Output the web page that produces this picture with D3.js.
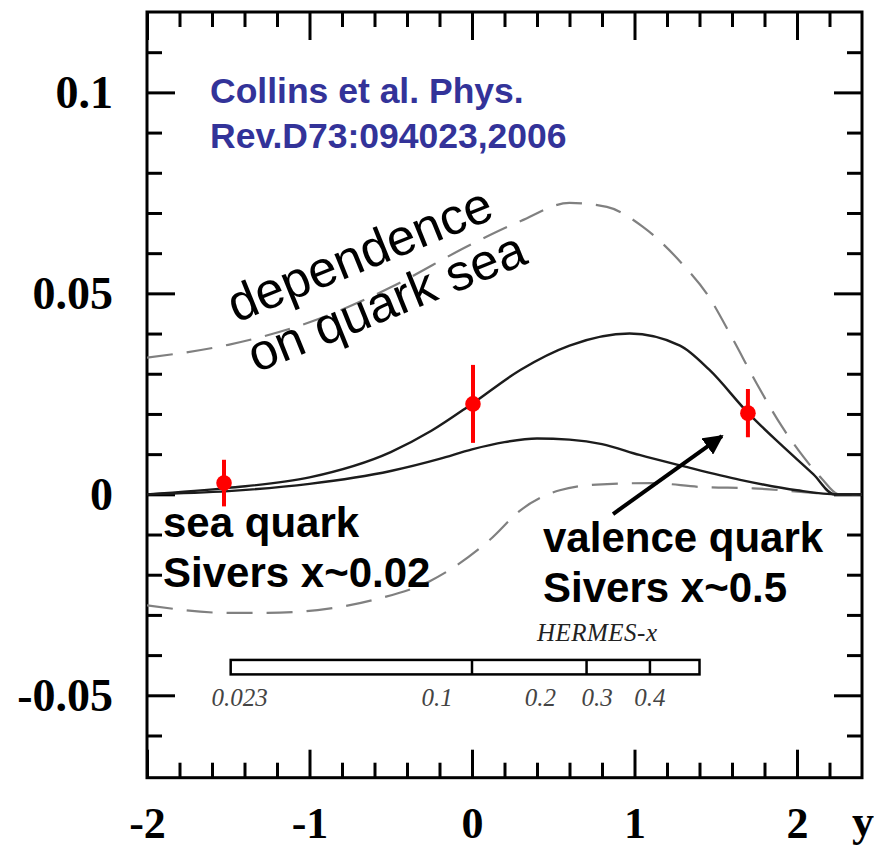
<!DOCTYPE html>
<html><head><meta charset="utf-8">
<script src="https://cdn.jsdelivr.net/npm/d3@7"></script>
<style>body{margin:0;background:#fff}</style>
</head><body>
<svg id="chart" width="874" height="847"></svg>
<script>
// ---------- data ----------
const yMajorTicks = [-0.05, 0, 0.05, 0.1];
const yMajorLabels = ["-0.05", "0", "0.05", "0.1"];
const yMinorTicks = [-0.06, -0.04, -0.03, -0.02, -0.01, 0.01, 0.02, 0.03, 0.04, 0.06, 0.07, 0.08, 0.09, 0.11];
const xMajorTicks = [-2, -1, 0, 1, 2];
const xMajorLabels = ["-2", "-1", "0", "1", "2"];
const xMinorTicks = [-1.8, -1.6, -1.4, -1.2, -0.8, -0.6, -0.4, -0.2, 0.2, 0.4, 0.6, 0.8, 1.2, 1.4, 1.6, 1.8, 2.2];

// solid curves
const solidUpperX = [-2, -1.5, -1.0, -0.5, -0.25, 0.0, 0.3, 0.6, 0.97, 1.28, 1.46, 1.7, 1.9, 2.1, 2.23, 2.4];
const solidUpperY = [0, 0.0016, 0.0042, 0.0105, 0.0158, 0.0225, 0.031, 0.037, 0.040, 0.037, 0.031, 0.0202, 0.0124, 0.005, 0, 0];
const solidLowerX = [-2, -1.5, -1.0, -0.5, -0.2, 0.0, 0.2, 0.4, 0.6, 0.8, 1.03, 1.3, 1.65, 2.0, 2.25, 2.4];
const solidLowerY = [0, 0.0008, 0.0026, 0.0058, 0.0088, 0.0112, 0.0130, 0.0139, 0.0136, 0.0125, 0.0098, 0.007, 0.0036, 0.001, 0, 0];
// dashed curves
const dashUpperX = [-2, -1.5, -1.0, -0.5, 0.0, 0.3, 0.6, 0.83, 1.05, 1.29, 1.45, 1.6, 1.75, 1.91, 2.04, 2.15, 2.26, 2.4];
const dashUpperY = [0.034, 0.0372, 0.0428, 0.0515, 0.0623, 0.068, 0.0725, 0.0715, 0.0666, 0.0575, 0.0496, 0.039, 0.0277, 0.0167, 0.0093, 0.004, 0, 0];
const dashLowerX = [-2, -1.5, -1.26, -0.95, -0.61, -0.26, 0.11, 0.3, 0.54, 0.8, 1.1, 1.42, 1.73, 2.06, 2.25, 2.4];
const dashLowerY = [-0.0276, -0.0295, -0.0295, -0.0288, -0.0263, -0.0216, -0.0113, -0.0039, 0.001, 0.0025, 0.0028, 0.0018, 0.0015, 0.0005, 0, 0];

// data points
const pointX = [-1.526, 0.006, 1.698];
const pointY = [0.0028, 0.0225, 0.0202];
const pointErr = [0.0058, 0.0097, 0.006];

// HERMES-x scale bar
const hermesEdges = [-1.485, 0.0, 0.705, 1.095, 1.40];
const hermesLabelPos = [-1.43, -0.215, 0.42, 0.77, 1.095];
const hermesLabels = ["0.023", "0.1", "0.2", "0.3", "0.4"];

// ---------- layout ----------
const svg = d3.select("#chart");
const L = 147, R = 862, T = 12, B = 777.7;
const x = d3.scaleLinear().domain([-2, 2.4]).range([L, R]);
const y = d3.scaleLinear().domain([-0.0705, 0.12]).range([B, T]);

const MAJ = 28, MIN = 15;
const axisFont = "'Liberation Serif','Times New Roman',serif";

function styleAxis(g) {
  g.select(".domain").remove();
  g.selectAll(".tick line").attr("stroke", "#000").attr("stroke-width", 3);
  g.selectAll(".tick text").attr("font-family", axisFont).attr("font-size", 46)
    .attr("font-weight", "bold").attr("fill", "#000");
}

// left axis majors with labels
svg.append("g").attr("transform", `translate(${L},0)`)
  .call(d3.axisLeft(y).tickValues(yMajorTicks).tickSizeInner(-MAJ).tickSizeOuter(0)
    .tickPadding(34).tickFormat((d, i) => yMajorLabels[i]))
  .call(styleAxis);
svg.append("g").attr("transform", `translate(${L},0)`)
  .call(d3.axisLeft(y).tickValues(yMinorTicks).tickSizeInner(-MIN).tickSizeOuter(0).tickFormat(""))
  .call(styleAxis);
// right axis mirror
svg.append("g").attr("transform", `translate(${R},0)`)
  .call(d3.axisRight(y).tickValues(yMajorTicks).tickSizeInner(-MAJ).tickSizeOuter(0).tickFormat(""))
  .call(styleAxis);
svg.append("g").attr("transform", `translate(${R},0)`)
  .call(d3.axisRight(y).tickValues(yMinorTicks).tickSizeInner(-MIN).tickSizeOuter(0).tickFormat(""))
  .call(styleAxis);
// bottom axis
const bx = svg.append("g").attr("transform", `translate(0,${B})`)
  .call(d3.axisBottom(x).tickValues(xMajorTicks).tickSizeInner(-MAJ).tickSizeOuter(0)
    .tickPadding(29).tickFormat((d, i) => xMajorLabels[i]))
  .call(styleAxis);
bx.selectAll(".tick text").attr("font-size", 44);
svg.append("g").attr("transform", `translate(0,${B})`)
  .call(d3.axisBottom(x).tickValues(xMinorTicks).tickSizeInner(-MIN).tickSizeOuter(0).tickFormat(""))
  .call(styleAxis);
// top axis mirror
svg.append("g").attr("transform", `translate(0,${T})`)
  .call(d3.axisTop(x).tickValues(xMajorTicks).tickSizeInner(-MAJ).tickSizeOuter(0).tickFormat(""))
  .call(styleAxis);
svg.append("g").attr("transform", `translate(0,${T})`)
  .call(d3.axisTop(x).tickValues(xMinorTicks).tickSizeInner(-MIN).tickSizeOuter(0).tickFormat(""))
  .call(styleAxis);

// axis title "y"
svg.append("text").attr("x", 852).attr("y", 836).text("y")
  .attr("font-family", axisFont).attr("font-size", 44).attr("font-weight", "bold");

// frame
svg.append("rect").attr("x", L).attr("y", T).attr("width", R - L).attr("height", B - T)
  .attr("fill", "none").attr("stroke", "#000").attr("stroke-width", 3);

// ---------- curves ----------
const line = d3.line().x(d => x(d[0])).y(d => y(d[1])).curve(d3.curveMonotoneX);
const curves = [
  {xs: dashUpperX, ys: dashUpperY, dash: "26,14", color: "#808080", w: 2.2},
  {xs: dashLowerX, ys: dashLowerY, dash: "26,14", color: "#808080", w: 2.2},
  {xs: solidUpperX, ys: solidUpperY, dash: null, color: "#1c1c1c", w: 2.4},
  {xs: solidLowerX, ys: solidLowerY, dash: null, color: "#1c1c1c", w: 2.4}
];
const clip = svg.append("clipPath").attr("id", "clip").append("rect")
  .attr("x", L).attr("y", T).attr("width", R - L).attr("height", B - T);
const cg = svg.append("g").attr("clip-path", "url(#clip)");
curves.forEach(c => {
  cg.append("path").datum(c.xs.map((v, i) => [v, c.ys[i]]))
    .attr("d", line).attr("fill", "none").attr("stroke", c.color)
    .attr("stroke-width", c.w).attr("stroke-dasharray", c.dash);
});

// ---------- HERMES-x bar ----------
const barTop = -0.0412, barBot = -0.0448;
const hg = svg.append("g");
hg.append("rect").attr("x", x(hermesEdges[0])).attr("y", y(barTop))
  .attr("width", x(hermesEdges[hermesEdges.length - 1]) - x(hermesEdges[0]))
  .attr("height", y(barBot) - y(barTop))
  .attr("fill", "#fff").attr("stroke", "#000").attr("stroke-width", 2.5);
hg.selectAll("line.div").data(hermesEdges.slice(1, -1)).join("line")
  .attr("x1", d => x(d)).attr("x2", d => x(d)).attr("y1", y(barTop)).attr("y2", y(barBot))
  .attr("stroke", "#000").attr("stroke-width", 2.5);
hg.selectAll("text.hl").data(hermesLabels).join("text")
  .attr("x", (d, i) => x(hermesLabelPos[i])).attr("y", 706)
  .attr("text-anchor", "middle").text(d => d)
  .attr("font-family", axisFont).attr("font-style", "italic").attr("font-size", 25)
  .attr("fill", "#444");
hg.append("text").attr("x", 537).attr("y", 641).text("HERMES-x")
  .attr("font-family", axisFont).attr("font-style", "italic").attr("font-size", 25)
  .attr("textLength", 120).attr("fill", "#222");

// ---------- data points ----------
const pg = svg.append("g");
pointX.forEach((px, i) => {
  pg.append("line").attr("x1", x(px)).attr("x2", x(px))
    .attr("y1", y(pointY[i] + pointErr[i])).attr("y2", y(pointY[i] - pointErr[i]))
    .attr("stroke", "#ff0000").attr("stroke-width", 4);
  pg.append("circle").attr("cx", x(px)).attr("cy", y(pointY[i])).attr("r", 7.8).attr("fill", "#ff0000");
});

// ---------- arrow ----------
svg.append("defs").append("marker").attr("id", "ah").attr("viewBox", "0 0 10 10")
  .attr("refX", 9).attr("refY", 5).attr("markerWidth", 5).attr("markerHeight", 5)
  .attr("orient", "auto").attr("markerUnits", "strokeWidth")
  .append("path").attr("d", "M0,0 L10,5 L0,10 z").attr("fill", "#000");
svg.append("line").attr("x1", x(0.868)).attr("y1", y(-0.0049)).attr("x2", x(1.538)).attr("y2", y(0.0145))
  .attr("stroke", "#000").attr("stroke-width", 4).attr("marker-end", "url(#ah)");

// ---------- annotations ----------
const sans = "'Liberation Sans',Arial,Helvetica,sans-serif";
svg.append("text").attr("x", 210).attr("y", 103).text("Collins et al. Phys.")
  .attr("font-family", sans).attr("font-weight", "bold").attr("font-size", 35.5).attr("fill", "#333399");
svg.append("text").attr("x", 210).attr("y", 148).text("Rev.D73:094023,2006")
  .attr("font-family", sans).attr("font-weight", "bold").attr("font-size", 35.5).attr("fill", "#333399");

const rg = svg.append("g").attr("transform", "translate(236,323) rotate(-22)");
rg.append("text").attr("x", 0).attr("y", 0).text("dependence")
  .attr("font-family", sans).attr("font-size", 51).attr("fill", "#000");
rg.append("text").attr("x", 0).attr("y", 54).text("on quark sea")
  .attr("font-family", sans).attr("font-size", 51).attr("fill", "#000");

[["sea quark", 163, 537], ["Sivers x~0.02", 163, 587], ["valence quark", 543, 552], ["Sivers x~0.5", 543, 602]]
  .forEach(t => svg.append("text").attr("x", t[1]).attr("y", t[2]).text(t[0])
    .attr("font-family", sans).attr("font-weight", "bold").attr("font-size", 42).attr("fill", "#000"));
</script>
</body></html>
